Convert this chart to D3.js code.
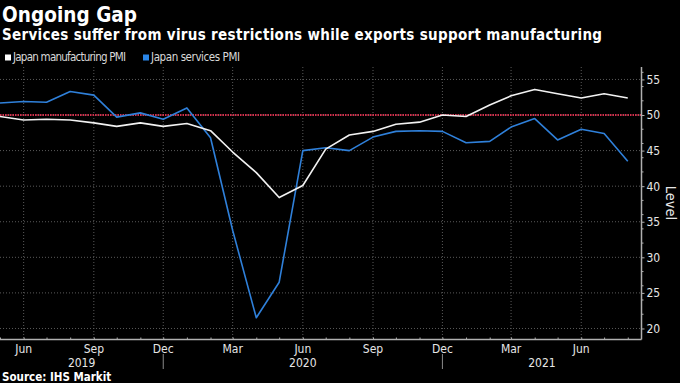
<!DOCTYPE html>
<html>
<head>
<meta charset="utf-8">
<script src="https://cdn.jsdelivr.net/npm/d3@7"></script>
<style>
  body { margin: 0; background: #000; }
</style>
</head>
<body>
<div id="canvas"></div>
<script>
"use strict"

// months, May 2019 .. Aug 2021
let months = ["2019-05", "2019-06", "2019-07", "2019-08", "2019-09", "2019-10", "2019-11", "2019-12",
              "2020-01", "2020-02", "2020-03", "2020-04", "2020-05", "2020-06", "2020-07", "2020-08",
              "2020-09", "2020-10", "2020-11", "2020-12", "2021-01", "2021-02", "2021-03", "2021-04",
              "2021-05", "2021-06", "2021-07", "2021-08"];

let manufacturing = [49.8, 49.3, 49.4, 49.3, 48.9, 48.4, 48.9, 48.4,
                     48.8, 47.8, 44.8, 41.9, 38.4, 40.1, 45.2, 47.2,
                     47.7, 48.7, 49.0, 50.0, 49.8, 51.4, 52.7, 53.6,
                     53.0, 52.4, 53.0, 52.4];

let services = [51.7, 51.9, 51.8, 53.3, 52.8, 49.7, 50.3, 49.4,
                51.0, 46.8, 33.8, 21.5, 26.5, 45.0, 45.4, 45.0,
                46.9, 47.7, 47.8, 47.7, 46.1, 46.3, 48.3, 49.5,
                46.5, 48.0, 47.4, 43.5];

let yTicks = [20, 25, 30, 35, 40, 45, 50, 55];
let monthNames = ["Jan", "Feb", "Mar", "Apr", "May", "Jun", "Jul", "Aug", "Sep", "Oct", "Nov", "Dec"];
let years = ["2019", "2020", "2021"];

let drawingWidth = 680;
let drawingHeight = 383;

let plotLeft = 0;
let plotRight = 641.5;
let plotTop = 67;
let plotBottom = 339.5;

let fontName = "'DejaVu Sans Condensed', 'DejaVu Sans', sans-serif";
let parseMonth = d3.timeParse("%Y-%m");
let dates = months.map(parseMonth);

let drawing = d3.select("#canvas")
    .append("svg")
    .attr("width", drawingWidth)
    .attr("height", drawingHeight)
    .style("background", "#000")
    .style("font-family", fontName);

let x = d3.scaleTime()
    .domain([new Date(2019, 4, 1), new Date(2021, 7, 19)])
    .range([plotLeft, plotRight]);

let y = d3.scaleLinear()
    .domain([18.45, 56.75])
    .range([plotBottom, plotTop]);

/* titles */
drawing.append("text")
    .attr("x", 2)
    .attr("y", 21.5)
    .attr("fill", "#fff")
    .attr("font-size", 20.5)
    .attr("font-weight", "bold")
    .attr("textLength", 135)
    .attr("lengthAdjust", "spacing")
    .text("Ongoing Gap");

drawing.append("text")
    .attr("x", 2)
    .attr("y", 39.5)
    .attr("fill", "#fff")
    .attr("font-size", 15)
    .attr("font-weight", "bold")
    .attr("textLength", 600)
    .attr("lengthAdjust", "spacing")
    .text("Services suffer from virus restrictions while exports support manufacturing");

/* legend */
let legendItems = [
    {name: "Japan manufacturing PMI", color: "#ffffff", x: 5, w: 113},
    {name: "Japan services PMI", color: "#2a86e8", x: 143, w: 89}
];
legendItems.forEach(function (item) {
    drawing.append("rect")
        .attr("x", item.x)
        .attr("y", 54.5)
        .attr("width", 6)
        .attr("height", 6)
        .attr("fill", item.color);
    drawing.append("text")
        .attr("x", item.x + 8)
        .attr("y", 61)
        .attr("fill", "#d8d8d8")
        .attr("font-size", 11.5)
        .attr("textLength", item.w)
        .attr("lengthAdjust", "spacing")
        .text(item.name);
});

/* gridlines */
let quarterDates = x.ticks(d3.timeMonth.every(1)).filter(d => d.getMonth() % 3 === 2);

drawing.append("g")
    .selectAll("line")
    .data(yTicks)
    .join("line")
    .attr("x1", plotLeft)
    .attr("x2", plotRight)
    .attr("y1", d => y(d))
    .attr("y2", d => y(d))
    .attr("stroke", "#5a5a5a")
    .attr("stroke-width", 1)
    .attr("stroke-dasharray", "1,2");

drawing.append("g")
    .selectAll("line")
    .data(quarterDates)
    .join("line")
    .attr("x1", d => x(d))
    .attr("x2", d => x(d))
    .attr("y1", plotTop)
    .attr("y2", plotBottom)
    .attr("stroke", "#5a5a5a")
    .attr("stroke-width", 1)
    .attr("stroke-dasharray", "1,2");

/* 50 line */
drawing.append("line")
    .attr("x1", plotLeft)
    .attr("x2", plotRight)
    .attr("y1", y(50))
    .attr("y2", y(50))
    .attr("stroke", "#d0304c")
    .attr("stroke-width", 2)
    .attr("stroke-dasharray", "1.5,1");

/* series lines */
let line = d3.line()
    .x((d, i) => x(dates[i]))
    .y(d => y(d));

drawing.append("path")
    .datum(services)
    .attr("d", line)
    .attr("fill", "none")
    .attr("stroke", "#2f80da")
    .attr("stroke-width", 1.6)
    .attr("stroke-linejoin", "round");

drawing.append("path")
    .datum(manufacturing)
    .attr("d", line)
    .attr("fill", "none")
    .attr("stroke", "#f2f2f2")
    .attr("stroke-width", 1.6)
    .attr("stroke-linejoin", "round");

/* right axis */
let yAxis = drawing.append("g")
    .attr("transform", "translate(" + plotRight + ",0)")
    .call(d3.axisRight(y).tickValues(yTicks).tickSize(3).tickPadding(2))
    .attr("font-family", fontName)
    .attr("font-size", 12);
yAxis.select(".domain").attr("stroke", "#b0b0b0").attr("stroke-width", 1.5)
    .attr("d", "M0," + plotTop + "V" + plotBottom);
yAxis.selectAll(".tick line").attr("stroke", "#b0b0b0");
yAxis.selectAll(".tick text").attr("fill", "#e6e6e6");

// minor ticks on the right axis
drawing.append("g")
    .selectAll("line")
    .data(y.ticks(16).filter(d => d % 5 !== 0))
    .join("line")
    .attr("x1", plotRight)
    .attr("x2", plotRight + 2)
    .attr("y1", d => y(d))
    .attr("y2", d => y(d))
    .attr("stroke", "#b0b0b0");

drawing.append("text")
    .attr("transform", "translate(665.5,203) rotate(90)")
    .attr("text-anchor", "middle")
    .attr("fill", "#e6e6e6")
    .attr("font-size", 14.5)
    .text("Level");

/* bottom axis */
let xAxis = drawing.append("g")
    .attr("transform", "translate(0," + plotBottom + ")")
    .call(d3.axisBottom(x).ticks(d3.timeMonth.every(1)).tickSize(-2).tickFormat(""));
xAxis.select(".domain").attr("stroke", "#b0b0b0").attr("stroke-width", 1.5)
    .attr("d", "M" + plotLeft + ",0H" + plotRight);
xAxis.selectAll(".tick line").attr("stroke", "#b0b0b0");

drawing.append("g")
    .selectAll("text")
    .data(quarterDates)
    .join("text")
    .attr("x", d => x(d))
    .attr("y", 353)
    .attr("text-anchor", "middle")
    .attr("fill", "#e6e6e6")
    .attr("font-size", 12)
    .text(d => monthNames[d.getMonth()]);

// year separators sit at the December label
let decDates = quarterDates.filter(d => d.getMonth() === 11);
drawing.append("g")
    .selectAll("line")
    .data(decDates)
    .join("line")
    .attr("x1", d => x(d))
    .attr("x2", d => x(d))
    .attr("y1", 354)
    .attr("y2", 369)
    .attr("stroke", "#8a8a8a");

let yearEdges = [plotLeft].concat(decDates.map(d => x(d)), [plotRight]);
drawing.append("g")
    .selectAll("text")
    .data(years)
    .join("text")
    .attr("x", (d, i) => (yearEdges[i] + yearEdges[i + 1]) / 2)
    .attr("y", 367)
    .attr("text-anchor", "middle")
    .attr("fill", "#e6e6e6")
    .attr("font-size", 12)
    .text(d => d);

/* source */
drawing.append("text")
    .attr("x", 2)
    .attr("y", 381)
    .attr("fill", "#fff")
    .attr("font-size", 11.5)
    .attr("font-weight", "bold")
    .text("Source: IHS Markit");
</script>
</body>
</html>
